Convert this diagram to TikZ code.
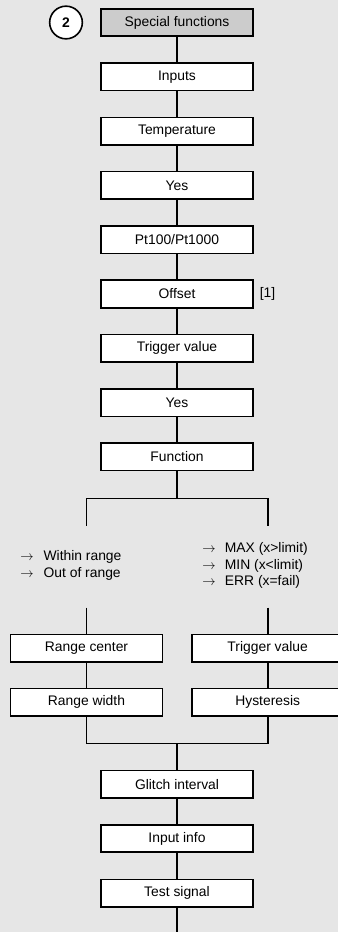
\documentclass[tikz,border=0pt]{standalone}
\usepackage{fontspec}
\setmainfont{Liberation Sans}
\usetikzlibrary{calc}
\definecolor{bgcol}{HTML}{E6E6E6}
\definecolor{headcol}{HTML}{CCCCCC}

\begin{document}
\begin{tikzpicture}[x=0.75pt, y=-0.75pt,
    box/.style={draw, line width=1.2pt, fill=white, minimum width=114pt, minimum height=20.6pt,
                inner sep=0pt, font=\fontsize{10.4}{12}\selectfont},
    headbox/.style={box, fill=headcol},
    link/.style={line width=1.2pt},
    choice/.style={anchor=west, align=left, inner sep=0pt}]
                \useasboundingbox (0,0) rectangle (338,932);
                \clip (0,0) rectangle (338,932);
                \fill[bgcol] (0,0) rectangle (338,932);
                % main chain
                \node[draw, circle, line width=1.2pt, fill=white, minimum size=24.5pt, inner sep=0pt,
                      font=\fontsize{10.4}{12}\selectfont\bfseries] (num) at (66,22.5) {2};
                \node[headbox] (sf) at (177,22.5) {Special functions};
                \node[box] (inp) at (177,76.8) {Inputs};
                \node[box] (temp) at (177,131.1) {Temperature};
                \node[box] (yes1) at (177,185.4) {Yes};
                \node[box] (pt) at (177,239.7) {Pt100/Pt1000};
                \node[box] (off) at (177,294) {Offset};
                \node[font=\fontsize{10.4}{12}\selectfont] (ref) at (267.5,294) {[1]};
                \node[box] (trig) at (177,348.3) {Trigger value};
                \node[box] (yes2) at (177,402.6) {Yes};
                \node[box] (fn) at (177,456.9) {Function};
                \draw[link] (sf) -- (inp);
                \draw[link] (inp) -- (temp);
                \draw[link] (temp) -- (yes1);
                \draw[link] (yes1) -- (pt);
                \draw[link] (pt) -- (off);
                \draw[link] (off) -- (trig);
                \draw[link] (trig) -- (yes2);
                \draw[link] (yes2) -- (fn);
                % split into the two functions
                \coordinate (split) at (177,498.3);
                \coordinate (sl) at (86.5,498.3);
                \coordinate (sr) at (267.7,498.3);
                \coordinate (slend) at (86.5,525.7);
                \coordinate (srend) at (267.7,525.7);
                \coordinate (slstart) at (86.5,607.7);
                \coordinate (srstart) at (267.7,607.7);
                \draw[link] (fn) -- (split);
                \draw[link] (slend) -- (sl) -- (sr) -- (srend);
                \node[choice, font=\fontsize{10.4}{13.2}\selectfont] (winlist) at (20,565.5)
                    {\makebox[17.5pt][l]{$\rightarrow$}Within range\\
                     \makebox[17.5pt][l]{$\rightarrow$}Out of range};
                \node[choice, font=\fontsize{10.4}{12.2}\selectfont] (maxlist) at (202,565.5)
                    {\makebox[17pt][l]{$\rightarrow$}MAX (x>limit)\\
                     \makebox[17pt][l]{$\rightarrow$}MIN (x<limit)\\
                     \makebox[17pt][l]{$\rightarrow$}ERR (x=fail)};
                % two branches
                \node[box] (rc) at (86.5,648.2) {Range center};
                \node[box] (rw) at (86.5,702.3) {Range width};
                \node[box] (tv) at (267.7,648.2) {Trigger value};
                \node[box] (hy) at (267.7,702.3) {Hysteresis};
                \draw[link] (slstart) -- (rc);
                \draw[link] (srstart) -- (tv);
                \draw[link] (rc) -- (rw);
                \draw[link] (tv) -- (hy);
                \coordinate (ml) at (86.5,743.3);
                \coordinate (mr) at (267.7,743.3);
                \coordinate (merge) at (177,743.3);
                \draw[link] (rw) -- (ml) -- (mr) -- (hy);
                % rest of the chain
                \node[box] (gi) at (177,784.2) {Glitch interval};
                \node[box] (ii) at (177,838.5) {Input info};
                \node[box] (tsig) at (177,893.3) {Test signal};
                \coordinate (bottom) at (177,932);
                \draw[link] (merge) -- (gi);
                \draw[link] (gi) -- (ii);
                \draw[link] (ii) -- (tsig);
                \draw[link] (tsig) -- (bottom);
            \end{tikzpicture}
\end{document}
